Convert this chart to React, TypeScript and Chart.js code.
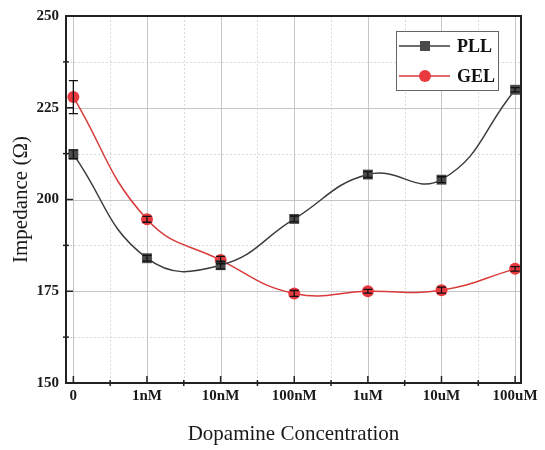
import React, { useEffect, useRef } from 'react';
import { Chart, registerables } from 'chart.js';

Chart.register(...registerables);

const categories = ['0', '1nM', '10nM', '100nM', '1uM', '10uM', '100uM'];
const pllValues = [212.3, 184.0, 182.1, 194.7, 206.8, 205.4, 229.9];
const pllErrors = [1.2, 0.8, 1.0, 0.8, 0.8, 0.8, 0.6];
const gelValues = [227.9, 194.6, 183.5, 174.4, 175.0, 175.3, 181.1];
const gelErrors = [4.5, 0.8, 1.0, 0.8, 0.5, 0.8, 0.6];
const yTicks = [150, 175, 200, 225, 250];
const seriesNames = ['PLL', 'GEL'];

const FONT = '"Liberation Serif", "Times New Roman", serif';
const PLL_COLOR = '#3c3c3c';
const PLL_FILL = '#4a4a4a';
const GEL_COLOR = '#d93a3a';
const GEL_FILL = '#e8393f';

const crisp = (v: number) => Math.round(v) + 0.5;

const decorPlugin = {
  id: 'decor',
  beforeDatasetsDraw(chart: any) {
    const { ctx, chartArea: a, scales } = chart;
    const x = scales.x;
    const y = scales.y;
    ctx.save();
    ctx.lineWidth = 1;
    // minor grid (dotted)
    ctx.strokeStyle = '#dadada';
    ctx.setLineDash([2, 2]);
    for (let i = 0; i < categories.length - 1; i++) {
      const px = crisp(x.getPixelForValue(i + 0.5));
      ctx.beginPath();
      ctx.moveTo(px, a.top);
      ctx.lineTo(px, a.bottom);
      ctx.stroke();
    }
    for (let j = 0; j < yTicks.length - 1; j++) {
      const py = crisp(y.getPixelForValue((yTicks[j] + yTicks[j + 1]) / 2));
      ctx.beginPath();
      ctx.moveTo(a.left, py);
      ctx.lineTo(a.right, py);
      ctx.stroke();
    }
    // major grid (solid)
    ctx.setLineDash([]);
    ctx.strokeStyle = '#c6c6c6';
    categories.forEach((_, i) => {
      const px = crisp(x.getPixelForValue(i));
      ctx.beginPath();
      ctx.moveTo(px, a.top);
      ctx.lineTo(px, a.bottom);
      ctx.stroke();
    });
    yTicks.slice(1, -1).forEach((v) => {
      const py = crisp(y.getPixelForValue(v));
      ctx.beginPath();
      ctx.moveTo(a.left, py);
      ctx.lineTo(a.right, py);
      ctx.stroke();
    });
    ctx.restore();
  },
  afterDatasetsDraw(chart: any) {
    const { ctx, chartArea: a, scales } = chart;
    const x = scales.x;
    const y = scales.y;
    ctx.save();
    // error bars
    ctx.strokeStyle = '#111';
    ctx.lineWidth = 1.3;
    const drawErr = (vals: number[], errs: number[]) => {
      vals.forEach((v, i) => {
        const px = x.getPixelForValue(i);
        const pTop = y.getPixelForValue(v + errs[i]);
        const pBot = y.getPixelForValue(v - errs[i]);
        const cap = 4.5;
        ctx.beginPath();
        ctx.moveTo(px, pTop);
        ctx.lineTo(px, pBot);
        ctx.moveTo(px - cap, pTop);
        ctx.lineTo(px + cap, pTop);
        ctx.moveTo(px - cap, pBot);
        ctx.lineTo(px + cap, pBot);
        ctx.stroke();
      });
    };
    drawErr(gelValues, gelErrors);
    drawErr(pllValues, pllErrors);

    // frame
    ctx.strokeStyle = '#222';
    ctx.lineWidth = 2;
    ctx.strokeRect(a.left, a.top, a.right - a.left, a.bottom - a.top);

    // ticks
    ctx.lineWidth = 1.5;
    categories.forEach((_, i) => {
      const px = x.getPixelForValue(i);
      ctx.beginPath();
      ctx.moveTo(px, a.bottom);
      ctx.lineTo(px, a.bottom - 7);
      ctx.stroke();
    });
    for (let i = 0; i < categories.length - 1; i++) {
      const px = x.getPixelForValue(i + 0.5);
      ctx.beginPath();
      ctx.moveTo(px, a.bottom - 3);
      ctx.lineTo(px, a.bottom + 3);
      ctx.stroke();
    }
    yTicks.forEach((v) => {
      const py = y.getPixelForValue(v);
      ctx.beginPath();
      ctx.moveTo(a.left, py);
      ctx.lineTo(a.left + 7, py);
      ctx.stroke();
    });
    for (let j = 0; j < yTicks.length - 1; j++) {
      const py = y.getPixelForValue((yTicks[j] + yTicks[j + 1]) / 2);
      ctx.beginPath();
      ctx.moveTo(a.left - 3, py);
      ctx.lineTo(a.left + 3, py);
      ctx.stroke();
    }

    // legend
    const lx = a.right - 125;
    const ly = a.top + 15;
    const lw = 102;
    const lh = 59;
    ctx.fillStyle = '#fff';
    ctx.fillRect(lx, ly, lw, lh);
    ctx.strokeStyle = '#666';
    ctx.lineWidth = 1;
    ctx.strokeRect(crisp(lx), crisp(ly), lw, lh);
    const entries = [
      { name: seriesNames[0], line: PLL_COLOR, fill: PLL_FILL, rect: true },
      { name: seriesNames[1], line: GEL_COLOR, fill: GEL_FILL, rect: false },
    ];
    entries.forEach((e, k) => {
      const cy = ly + 15 + k * 30;
      ctx.strokeStyle = e.line;
      ctx.lineWidth = 1.5;
      ctx.beginPath();
      ctx.moveTo(lx + 3, cy);
      ctx.lineTo(lx + 54, cy);
      ctx.stroke();
      ctx.fillStyle = e.fill;
      if (e.rect) {
        ctx.fillRect(lx + 24, cy - 5, 10, 10);
      } else {
        ctx.beginPath();
        ctx.arc(lx + 29, cy, 6, 0, Math.PI * 2);
        ctx.fill();
      }
      ctx.fillStyle = '#111';
      ctx.font = `bold 18px ${FONT}`;
      ctx.textAlign = 'left';
      ctx.textBaseline = 'middle';
      ctx.fillText(e.name, lx + 61, cy + 1);
    });
    ctx.restore();
  },
};

export default function App() {
  const ref = useRef<HTMLCanvasElement | null>(null);
  useEffect(() => {
    if (!ref.current) return;
    const chart = new Chart(ref.current, {
      type: 'line',
      data: {
        datasets: [
          {
            label: seriesNames[0],
            data: pllValues.map((v, i) => ({ x: i, y: v })),
            borderColor: PLL_COLOR,
            backgroundColor: PLL_FILL,
            borderWidth: 1.5,
            pointStyle: 'rect',
            pointRadius: 7,
            pointBorderWidth: 0,
            tension: 0.45,
          },
          {
            label: seriesNames[1],
            data: gelValues.map((v, i) => ({ x: i, y: v })),
            borderColor: GEL_COLOR,
            backgroundColor: GEL_FILL,
            borderWidth: 1.5,
            pointStyle: 'circle',
            pointRadius: 6,
            pointBorderWidth: 0,
            tension: 0.45,
          },
        ],
      },
      options: {
        responsive: false,
        animation: false,
        layout: { padding: { top: 15, right: 24, left: 0, bottom: 0 } },
        plugins: { legend: { display: false }, tooltip: { enabled: false } },
        scales: {
          x: {
            type: 'linear',
            min: -0.1,
            max: 6.08,
            afterBuildTicks: (s: any) => {
              s.ticks = categories.map((_, i) => ({ value: i }));
            },
            afterFit: (s: any) => {
              s.height = 67;
            },
            grid: { display: false, drawTicks: false },
            border: { display: false },
            ticks: {
              padding: 4,
              color: '#1a1a1a',
              font: { family: FONT, size: 15, weight: 'bold' },
              callback: (v: any) => categories[Math.round(Number(v))] ?? '',
              maxRotation: 0,
              autoSkip: false,
            },
            title: {
              display: true,
              text: 'Dopamine Concentration',
              color: '#1a1a1a',
              font: { family: FONT, size: 21 },
              padding: { top: 0, bottom: 3 },
            },
          },
          y: {
            min: 150,
            max: 250,
            afterBuildTicks: (s: any) => {
              s.ticks = yTicks.map((v) => ({ value: v }));
            },
            afterFit: (s: any) => {
              s.width = 66;
            },
            grid: { display: false, drawTicks: false },
            border: { display: false },
            ticks: {
              padding: 7,
              color: '#1a1a1a',
              font: { family: FONT, size: 15, weight: 'bold' },
            },
            title: {
              display: true,
              text: 'Impedance (Ω)',
              color: '#1a1a1a',
              font: { family: FONT, size: 21 },
              padding: { top: 9, bottom: 0 },
            },
          },
        },
      },
      plugins: [decorPlugin],
    } as any);
    return () => chart.destroy();
  }, []);
  return (
    <div style={{ position: 'fixed', left: 0, top: 0, width: 545, height: 450, background: '#fff' }}>
      <canvas ref={ref} width={545} height={450} />
    </div>
  );
}
